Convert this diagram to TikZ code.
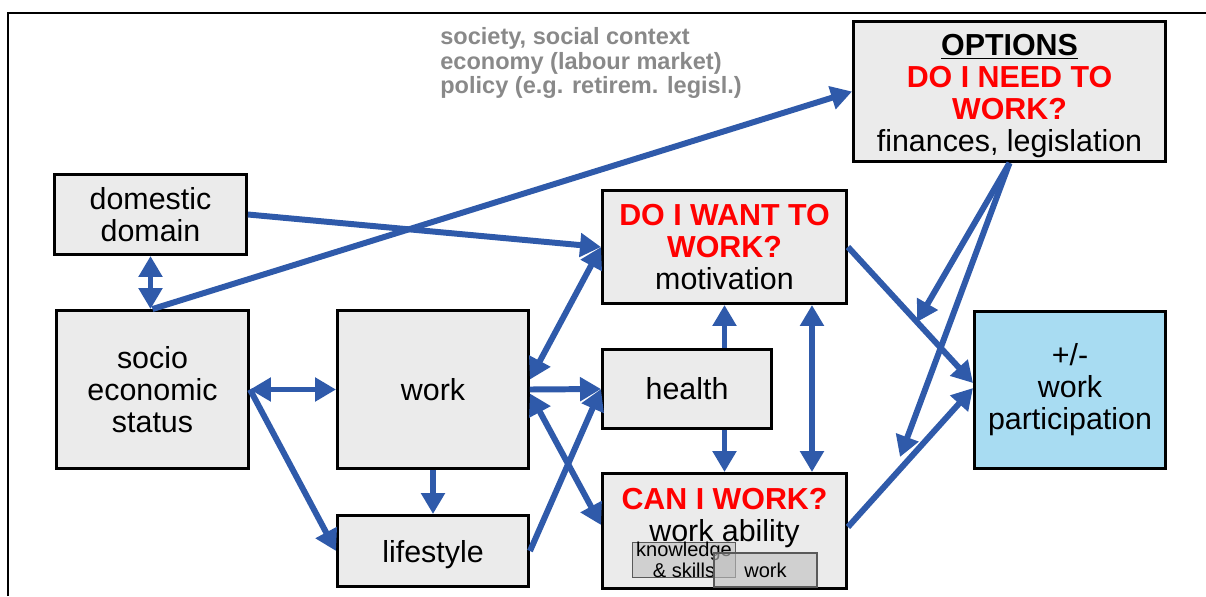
\documentclass[tikz,border=0pt]{standalone}
\usepackage{fontspec}
\setmainfont{Liberation Sans}
\usetikzlibrary{arrows.meta}
\definecolor{linkblue}{RGB}{47,90,170}
\definecolor{boxgray}{RGB}{235,235,235}
\definecolor{partblue}{RGB}{168,220,242}
\definecolor{ctxgray}{RGB}{137,137,137}
\newcommand{\ask}[1]{{\color{red}\bfseries #1}}
\tikzset{
  box/.style={draw=black,line width=1.7pt,fill=boxgray,align=center,inner sep=0pt,
    font=\fontsize{17.3}{18.2}\selectfont},
  subbox/.style={draw=black!65,line width=0.6pt,fill=black!25,fill opacity=0.6,text opacity=1,
    align=center,inner sep=0pt,minimum width=2.06cm,minimum height=0.68cm,
    font=\fontsize{11.4}{8.8}\selectfont},
  link/.style={draw=linkblue,line width=3.4pt,->},
  >={Triangle[length=0.42cm,width=0.46cm]}
}
\begin{document}
\begin{tikzpicture}[x=0.02cm,y=-0.02cm]
  \useasboundingbox (0,0) rectangle (1206,596);
  \draw[line width=1.7pt] (8,596) -- (8,13) -- (1206,13);
  \node[anchor=west,inner sep=0pt,align=left,text=ctxgray,
    font=\fontsize{13.4}{13.9}\selectfont\bfseries] (ctx) at (440,63)
    {society, social context\\economy (labour market)\\policy (e.g. retirem. legisl.)};
  \draw
    (150.5,214.5) node[box,minimum width=3.84cm,minimum height=1.6cm] (dom){domestic\\domain}
    (152.5,389.5) node[box,minimum width=3.84cm,minimum height=3.16cm] (ses){socio\\economic\\status}
    (433,389.5) node[box,minimum width=3.82cm,minimum height=3.16cm] (work){work}
    (433,551) node[box,text depth=0pt,minimum width=3.82cm,minimum height=1.42cm] (life){lifestyle}
    (724.5,247) node[box,minimum width=4.88cm,minimum height=2.26cm] (want){\ask{DO I WANT TO}\\\ask{WORK?}\\motivation}
    (687,389) node[box,minimum width=3.38cm,minimum height=1.58cm] (health){health}
    (724.5,531) node[box,minimum width=4.88cm,minimum height=2.3cm] (can){\ask{CAN I WORK?}\\work ability\\\mbox{}}
    (1009.5,91.5) node[box,minimum width=6.24cm,minimum height=2.8cm] (need){\rule{0pt}{17pt}\underline{\textbf{OPTIONS}}\\\ask{DO I NEED TO}\\\ask{WORK?}\\finances, legislation}
    (1070,390) node[box,fill=partblue,minimum width=3.82cm,minimum height=3.14cm] (part){+/-\\work\\participation}
    (684,560) node[subbox] (skills){knowledge\\\& skills}
    (765.5,570) node[subbox] (wk){work};
  \coordinate (hintA) at (917,322);
  \coordinate (hintB) at (900,457);
  \begin{scope}[link]
    \draw[<->] (dom.south) to (dom.south |- ses.north);
    \draw (ses.north) to (need.west);
    \draw (dom.east) to (want.west);
    \draw[<->] (ses.east) to (work.west);
    \draw (ses.east) to (life.west);
    \draw (work.south) to (life.north);
    \draw[<->] ([yshift=0.2cm]work.east) to (want.west);
    \draw (work.east) to (health.west);
    \draw[<->] ([yshift=-0.08cm]work.east) to ([yshift=0.12cm]can.west);
    \draw (life.east) to (health.west);
    \draw (want.south |- health.north) to (want.south);
    \draw (can.north |- health.south) to (can.north);
    \draw[<->] ([xshift=1.75cm]want.south) to ([xshift=1.75cm]can.north);
    \draw (want.east) to ([yshift=0.14cm]part.west);
    \draw ([yshift=0.08cm]can.east) to ([yshift=0.04cm]part.west);
    \draw (need.south) to (hintA);
    \draw (need.south) to (hintB);
  \end{scope}
\end{tikzpicture}
\end{document}
